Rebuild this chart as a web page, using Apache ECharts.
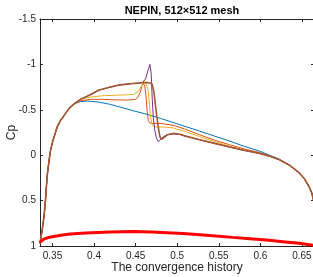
<!DOCTYPE html>
<html><head><meta charset="utf-8">
<script src="https://cdn.jsdelivr.net/npm/echarts@6/dist/echarts.min.js"></script>
<style>html,body{margin:0;padding:0;background:#fff}#c{width:313px;height:277px}</style>
</head><body><div id="c"></div>
<script>
const titleText = 'NEPIN, 512\u00d7512 mesh';
const xName = 'The convergence history';
const yName = 'Cp';
const xTicks = [0.35, 0.4, 0.45, 0.5, 0.55, 0.6, 0.65];
const yTicks = [-1.5, -1, -0.5, 0, 0.5, 1];

const leadingEdge = [[0.3350,0.97],[0.3357,0.93],[0.3377,0.82],[0.3400,0.66],[0.3416,0.49],[0.3437,0.22],[0.3460,0.05],[0.3476,-0.05],[0.3505,-0.16],[0.3536,-0.25],[0.3556,-0.31],[0.3595,-0.38],[0.3635,-0.43],[0.3695,-0.51]];
const trailingEdge = [[0.6110,0.01],[0.6230,0.05],[0.6350,0.11],[0.6468,0.195],[0.6530,0.26],[0.6588,0.35],[0.6620,0.42],[0.6645,0.52]];

const iter1 = [[0.3755,-0.565],[0.3835,-0.59],[0.3920,-0.597],[0.4054,-0.585],[0.4194,-0.56],[0.4314,-0.53],[0.4469,-0.49],[0.4637,-0.45],[0.4800,-0.405],[0.5000,-0.345],[0.5270,-0.265],[0.5450,-0.21],[0.5594,-0.167],[0.5800,-0.10],[0.5990,-0.045],[0.6110,0.0],[0.6230,0.045]];
const iter2 = [[0.3755,-0.565],[0.3835,-0.60],[0.3955,-0.615],[0.4100,-0.615],[0.4250,-0.61],[0.4400,-0.607],[0.4500,-0.615],[0.4529,-0.64],[0.4555,-0.69],[0.4575,-0.76],[0.4593,-0.79],[0.4610,-0.76],[0.4625,-0.65],[0.4640,-0.48],[0.4652,-0.38],[0.4670,-0.355],[0.4709,-0.35],[0.4800,-0.35],[0.4950,-0.33],[0.5100,-0.285],[0.5270,-0.225],[0.5450,-0.165],[0.5630,-0.115],[0.5800,-0.07],[0.5990,-0.03]];
const iter3 = [[0.3755,-0.57],[0.3835,-0.615],[0.3955,-0.64],[0.4100,-0.655],[0.4250,-0.66],[0.4400,-0.665],[0.4480,-0.67],[0.4529,-0.70],[0.4575,-0.77],[0.4605,-0.83],[0.4628,-0.81],[0.4650,-0.72],[0.4665,-0.56],[0.4680,-0.42],[0.4700,-0.33],[0.4740,-0.31],[0.4850,-0.31],[0.4950,-0.30],[0.5100,-0.26],[0.5270,-0.205],[0.5450,-0.15],[0.5630,-0.10],[0.5800,-0.06],[0.5990,-0.025]];
const iter4 = [[0.3755,-0.56],[0.3835,-0.615],[0.3955,-0.665],[0.4054,-0.715],[0.4194,-0.75],[0.4314,-0.775],[0.4469,-0.79],[0.4580,-0.80],[0.4620,-0.84],[0.4648,-0.93],[0.4672,-1.0],[0.4687,-0.9],[0.4700,-0.62],[0.4712,-0.42],[0.4730,-0.28],[0.4750,-0.19],[0.4772,-0.15],[0.4795,-0.17],[0.4830,-0.20],[0.4880,-0.225],[0.4950,-0.235],[0.5030,-0.23],[0.5100,-0.21],[0.5270,-0.17],[0.5450,-0.13],[0.5630,-0.09],[0.5800,-0.055],[0.5990,-0.02]];
const converged = [[0.3755,-0.56],[0.3835,-0.615],[0.3955,-0.665],[0.4054,-0.715],[0.4194,-0.75],[0.4314,-0.775],[0.4469,-0.79],[0.4637,-0.80],[0.4670,-0.795],[0.4697,-0.785],[0.4720,-0.70],[0.4745,-0.50],[0.4770,-0.32],[0.4793,-0.20],[0.4810,-0.175],[0.4835,-0.19],[0.4880,-0.225],[0.4950,-0.24],[0.5030,-0.23],[0.5100,-0.21],[0.5270,-0.17],[0.5450,-0.13],[0.5630,-0.09],[0.5800,-0.055],[0.5990,-0.02]];
const lowerSurface = [[0.3348,0.96],[0.3360,0.945],[0.3396,0.925],[0.3440,0.91],[0.3497,0.897],[0.3600,0.882],[0.3715,0.868],[0.3900,0.856],[0.4194,0.845],[0.4470,0.841],[0.4700,0.846],[0.4876,0.853],[0.5071,0.862],[0.5271,0.875],[0.5466,0.89],[0.5666,0.905],[0.5873,0.92],[0.6073,0.935],[0.6270,0.952],[0.6468,0.97],[0.6612,0.99],[0.6645,0.995]];

const upperColors = ['#0072BD', '#D95319', '#EDB120', '#7E2F8E', '#A5562F'];
const upperSets = [iter1, iter2, iter3, iter4, converged];

function full(mid) {
  const tailStart = mid[mid.length - 1][0];
  return leadingEdge.concat(mid, trailingEdge.filter(p => p[0] > tailStart));
}

const axisCol = '#262626';
const series = upperSets.map((d, i) => ({
  type: 'line', data: full(d), showSymbol: false, animation: false,
  lineStyle: { color: upperColors[i], width: i === 4 ? 1.6 : 1 },
  itemStyle: { color: upperColors[i] }, z: 2 + i
}));
series.push({
  type: 'line', data: lowerSurface, showSymbol: false, animation: false,
  lineStyle: { color: '#ff0000', width: 3 }, z: 10
});

const chart = echarts.init(document.getElementById('c'));
chart.setOption({
  backgroundColor: '#fff',
  animation: false,
  title: { text: titleText, left: 177, top: 0, textAlign: 'center',
    textStyle: { fontFamily: 'Liberation Sans', fontSize: 11, fontWeight: 'bold', color: '#000' } },
  grid: { left: 40, right: -1, top: 19, bottom: 31, outerBoundsMode: 'none' },
  xAxis: [{
    type: 'value', min: 0.335, max: 0.6645, position: 'bottom',
    name: xName, nameLocation: 'middle', nameGap: 16, nameMoveOverlap: false,
    nameTextStyle: { fontFamily: 'Liberation Sans', fontSize: 12, color: axisCol },
    axisLine: { onZero: false, lineStyle: { color: axisCol, width: 1 } },
    axisTick: { inside: true, length: 3, customValues: xTicks, lineStyle: { color: axisCol } },
    axisLabel: { customValues: xTicks, margin: 5, fontFamily: 'Liberation Sans', fontSize: 10, color: axisCol,
      formatter: v => String(+v.toFixed(2)) },
    splitLine: { show: false }
  }, {
    type: 'value', min: 0.335, max: 0.6645, position: 'top',
    axisLine: { onZero: false, lineStyle: { color: axisCol, width: 1 } },
    axisTick: { inside: true, length: 3, customValues: xTicks, lineStyle: { color: axisCol } },
    axisLabel: { show: false }, splitLine: { show: false }
  }],
  yAxis: [{
    type: 'value', min: -1.5, max: 1, interval: 0.5, inverse: true, position: 'left',
    name: yName, nameLocation: 'middle', nameGap: 22, nameRotate: 90, nameMoveOverlap: false,
    nameTextStyle: { fontFamily: 'Liberation Sans', fontSize: 12, color: axisCol },
    axisLine: { show: true, onZero: false, lineStyle: { color: axisCol, width: 1 } },
    axisTick: { show: true, inside: true, length: 3, lineStyle: { color: axisCol } },
    axisLabel: { margin: 4, fontFamily: 'Liberation Sans', fontSize: 10, color: axisCol,
      formatter: v => String(+v.toFixed(2)) },
    splitLine: { show: false }
  }, {
    type: 'value', min: -1.5, max: 1, interval: 0.5, inverse: true, position: 'right',
    axisLine: { show: true, onZero: false, lineStyle: { color: axisCol, width: 1 } },
    axisTick: { show: true, inside: true, length: 3, lineStyle: { color: axisCol } },
    axisLabel: { show: false }, splitLine: { show: false }
  }],
  series: series
});
</script>
</body></html>
